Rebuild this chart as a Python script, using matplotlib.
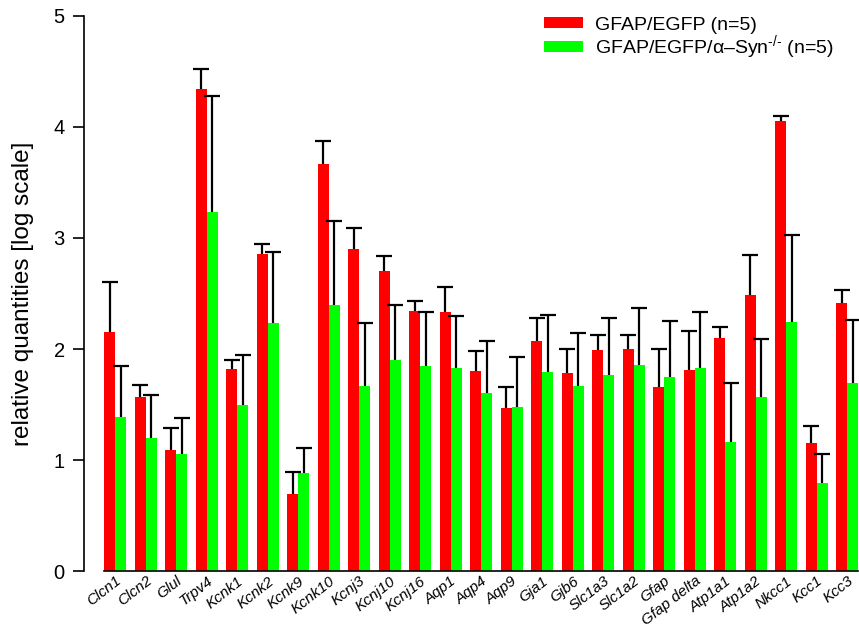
import matplotlib
matplotlib.use("Agg")
import matplotlib.pyplot as plt
from matplotlib.patches import Patch
import numpy as np

plt.rcParams['font.family'] = ['Liberation Sans', 'DejaVu Sans']
plt.rcParams['mathtext.fontset'] = 'custom'
plt.rcParams['mathtext.rm'] = 'Liberation Sans'
plt.rcParams['mathtext.it'] = 'Liberation Sans:italic'

genes = ["Clcn1", "Clcn2", "Glul", "Trpv4", "Kcnk1", "Kcnk2", "Kcnk9", "Kcnk10",
         "Kcnj3", "Kcnj10", "Kcnj16", "Aqp1", "Aqp4", "Aqp9", "Gja1", "Gjb6",
         "Slc1a3", "Slc1a2", "Gfap", "Gfap delta", "Atp1a1", "Atp1a2", "Nkcc1",
         "Kcc1", "Kcc3"]

wt_mean = [2.15, 1.57, 1.09, 4.34, 1.82, 2.86, 0.69, 3.67, 2.90, 2.70, 2.34, 2.33, 1.80,
           1.47, 2.07, 1.78, 1.99, 2.00, 1.66, 1.81, 2.10, 2.49, 4.05, 1.15, 2.41]
wt_err = [0.45, 0.11, 0.20, 0.18, 0.08, 0.09, 0.20, 0.20, 0.19, 0.14, 0.09, 0.23, 0.18,
          0.19, 0.21, 0.22, 0.14, 0.13, 0.34, 0.35, 0.10, 0.36, 0.05, 0.16, 0.12]

ko_mean = [1.39, 1.20, 1.05, 3.23, 1.50, 2.23, 0.88, 2.40, 1.67, 1.90, 1.85, 1.83, 1.60,
           1.48, 1.79, 1.67, 1.77, 1.86, 1.75, 1.83, 1.16, 1.57, 2.24, 0.79, 1.69]
ko_err = [0.46, 0.39, 0.33, 1.05, 0.45, 0.64, 0.23, 0.75, 0.56, 0.50, 0.48, 0.47, 0.47,
          0.45, 0.52, 0.47, 0.51, 0.51, 0.50, 0.50, 0.53, 0.52, 0.79, 0.26, 0.57]

labels = ["GFAP/EGFP (n=5)", r"GFAP/EGFP/α–Syn$^{\text{-/-}}$ (n=5)"]
colors = ["#ff0000", "#00ff00"]

fig = plt.figure(figsize=(8.59, 6.27), dpi=100)
ax = fig.add_axes([0.098, 0.0893, 0.902, 0.8852])

x = np.arange(len(genes))
w = 0.36
bx_wt = x - w / 2
bx_ko = x + w / 2
ax.bar(bx_wt, wt_mean, width=w, color=colors[0], linewidth=0, zorder=2)
ax.bar(bx_ko, ko_mean, width=w, color=colors[1], linewidth=0, zorder=2)

for bx, m, e in ((bx_wt, wt_mean, wt_err), (bx_ko, ko_mean, ko_err)):
    eb = ax.errorbar(bx, m, yerr=[np.zeros(len(m)), e], fmt='none', ecolor='black',
                     elinewidth=1.6, capsize=6, capthick=1.6, zorder=3)
    # one-sided bars: hide the lower caps
    eb[1][0].set_visible(False)

ax.set_ylim(0, 5)
ax.set_xlim(-1.016, 24.39)
ax.set_yticks([0, 1, 2, 3, 4, 5])
ax.tick_params(axis='y', direction='out', length=8, width=1.2, labelsize=14.5, pad=6)
ax.set_xticks(x)
ax.set_xticklabels(genes, rotation=38, ha='right', rotation_mode='anchor',
                   fontsize=11, style='italic')
ax.tick_params(axis='x', length=0, pad=2)
ax.set_ylabel("relative quantities [log scale]", fontsize=17.5, labelpad=14)

for s in ("top", "right"):
    ax.spines[s].set_visible(False)
ax.spines['left'].set_linewidth(1.2)
ax.spines['bottom'].set_linewidth(1.2)
ax.spines['bottom'].set_bounds(-w, len(genes) - 1 + w)

handles = [Patch(facecolor=c, edgecolor='none') for c in colors]
fig.legend(handles, labels, loc='upper left', bbox_to_anchor=(0.618, 0.995),
           frameon=False, fontsize=14, handlelength=2.0, handleheight=0.5,
           handletextpad=0.6, labelspacing=-0.02, borderpad=0.2)

fig.savefig("out.png", dpi=100)
